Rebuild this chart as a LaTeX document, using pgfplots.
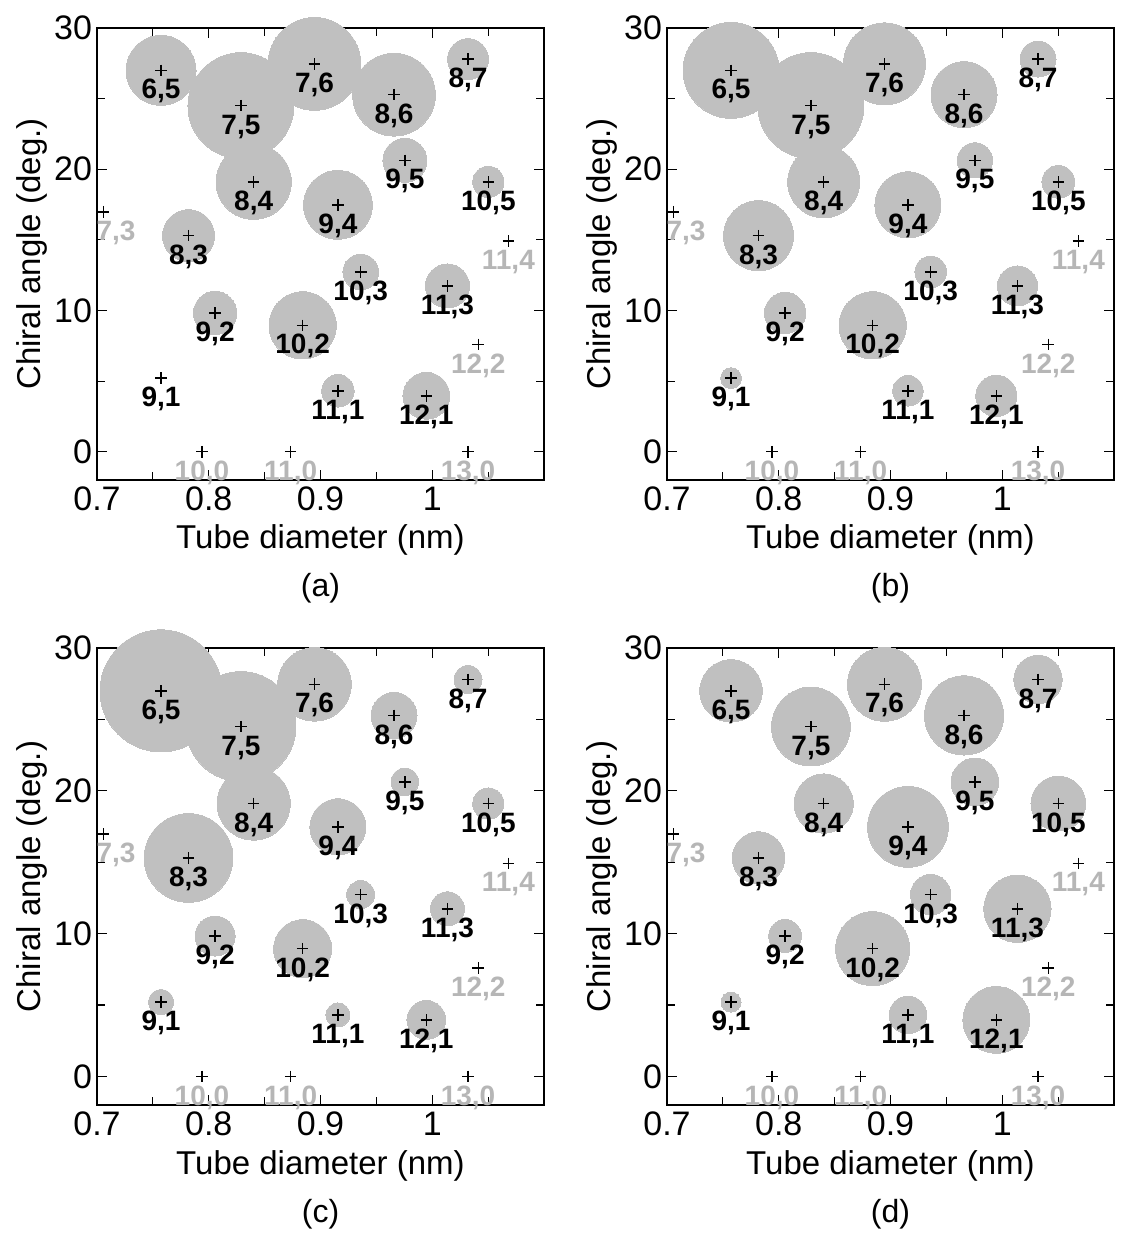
\documentclass[border=0pt]{standalone}
\usepackage{fontspec}
\setmainfont{Liberation Sans}
\usepackage{pgfplots}
\usepackage{pgfplotstable}
\pgfplotsset{compat=1.18}

\definecolor{bubble}{RGB}{192,192,192}
\definecolor{lblgray}{RGB}{182,182,182}

% tube diameter (nm), chiral angle (deg), bubble radius (pt) in panels a-d
\pgfplotstableread{
x      y      ra    rb    rc    rd
0.7573 27.00  17.5  24.0  30.5  15.6
0.8288 24.50  26.5  26.5  27.5  19.7
0.8946 27.46  23.2  20.5  18.4  18.5
0.9658 25.28  20.7  16.5  11.5  19.8
1.0320 27.80  10.2   9.0   7.0  12.1
0.8402 19.11  18.8  18.0  18.3  14.8
0.9755 20.63  11.0   8.8   6.9  11.9
1.0502 19.11   7.8   8.2   7.8  13.7
0.9156 17.48  17.2  16.5  14.0  20.2
0.7819 15.30  13.0  17.5  22.2  13.1
0.9360 12.73   8.9   7.9   7.0  10.1
1.0136 11.74  11.0  10.0   8.5  16.8
0.8057  9.83  10.8  10.3  10.0   8.2
0.8840  8.95  16.8  16.8  14.5  18.5
0.7573  5.21   0.0   5.2   6.3   5.0
0.9156  4.31   8.1   7.6   6.0   9.4
0.9947  3.96  11.7  10.3   9.7  16.7
}\bubbles

\pgfplotstableread{
x      y      lab
0.7573 27.00  6,5
0.8288 24.50  7,5
0.8946 27.46  7,6
0.9658 25.28  8,6
1.0320 27.80  8,7
0.8402 19.11  8,4
0.9755 20.63  9,5
1.0502 19.11  10,5
0.9156 17.48  9,4
0.7819 15.30  8,3
0.9360 12.73  10,3
1.0136 11.74  11,3
0.8057  9.83  9,2
0.8840  8.95  10,2
0.7573  5.21  9,1
0.9156  4.31  11,1
0.9947  3.96  12,1
}\blacklabels

% lx: where the label sits (7,3 is nudged right of its point)
\pgfplotstableread{
x      lx     y      lab
0.7056 0.7170 16.99  7,3
1.0681 1.0681 14.92  11,4
1.0412 1.0412  7.59  12,2
0.7939 0.7939  0.00  10,0
0.8733 0.8733  0.00  11,0
1.0320 1.0320  0.00  13,0
}\graylabels

\pgfplotsset{
  panel/.style={
    scale only axis, width=223.5pt, clip=false, anchor=south west,
    xmin=0.7, xmax=1.1, ymin=-2, ymax=30,
    xtick={0.7,0.8,0.9,1}, minor xtick={0.75,0.85,0.95,1.05},
    ytick={0,10,20,30}, minor ytick={5,15,25},
    tick align=inside, tick pos=both,
    major tick length=5pt, minor tick length=4pt,
    every tick/.style={black, line width=0.6pt},
    axis line style={line width=0.6pt},
    ticklabel style={font=\fontsize{17}{18}\selectfont},
    yticklabel style={xshift=1pt},
    /pgf/number format/assume math mode=true,
    xlabel={Tube diameter (nm)}, ylabel={Chiral angle (deg.)},
    every axis x label/.style={at={(axis description cs:0.5,-0.133)}, anchor=center,
      font=\fontsize{16.5}{18}\selectfont},
    every axis y label/.style={at={(axis description cs:-0.145,0.5)}, anchor=center,
      rotate=90, font=\fontsize{16.5}{18}\selectfont},
    title style={at={(axis description cs:0.5,-0.265)}, anchor=center, yshift=0pt,
      font=\fontsize{16}{17}\selectfont},
  },
  tubelabel/.style={mark=none, draw=none, nodes near coords, point meta=explicit symbolic,
    every node near coord/.append style={anchor=center, yshift=-10.5pt, text=#1,
      inner sep=0pt, font=\bfseries\fontsize{14}{14}\selectfont}},
}

% #1 position, #2 radius column, #3 caption, #4 axis height
\newcommand\panel[4]{%
\begin{axis}[panel, at={#1}, height=#4, title={#3}]
  \addplot[scatter, only marks, mark=*, point meta=\thisrow{#2},
    mark options={draw=bubble, fill=bubble, line width=0pt},
    scatter/use mapped color={draw=bubble, fill=bubble},
    visualization depends on={\thisrow{#2} \as \rad},
    scatter/@pre marker code/.append style={/tikz/mark size=\rad}]
    table {\bubbles};
  \addplot[only marks, mark=+, mark size=2.9pt, black, line width=0.75pt] table {\blacklabels};
  \addplot[only marks, mark=+, mark size=2.9pt, black, line width=0.75pt] table[x=x, y=y] {\graylabels};
  \addplot[tubelabel=black] table[meta=lab] {\blacklabels};
  \addplot[tubelabel=lblgray] table[x=lx, y=y, meta=lab] {\graylabels};
\end{axis}}

\begin{document}
\begin{tikzpicture}
\panel{(48.5pt,379pt)}{ra}{(a)}{226pt}
\panel{(333.5pt,379pt)}{rb}{(b)}{226pt}
\panel{(48.5pt,66.5pt)}{rc}{(c)}{228.5pt}
\panel{(333.5pt,66.5pt)}{rd}{(d)}{228.5pt}
\pgfresetboundingbox
\path[use as bounding box] (0,0) rectangle (561pt,619pt);
\end{tikzpicture}
\end{document}
